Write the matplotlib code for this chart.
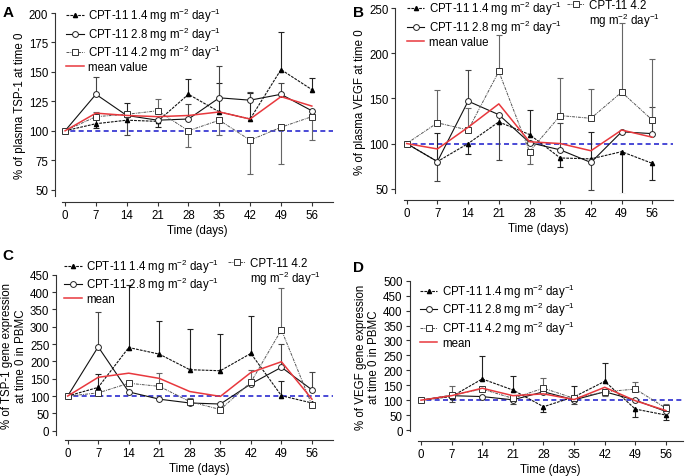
import matplotlib
matplotlib.use("Agg")
import matplotlib.pyplot as plt
import numpy as np
from matplotlib.lines import Line2D

plt.rcParams['font.family'] = ['Liberation Sans', 'DejaVu Sans']
plt.rcParams['mathtext.fontset'] = 'custom'
plt.rcParams['mathtext.rm'] = 'Liberation Sans'
plt.rcParams['font.size'] = 8

days = [0, 7, 14, 21, 28, 35, 42, 49, 56]

# panel A - plasma TSP-1
a_14 = [100, 106, 109, 108, 131, 116, 110, 152, 135]
a_14_lo = [0, 4, 0, 5, 0, 0, 0, 0, 0]
a_14_hi = [0, 4, 15, 0, 13, 25, 22, 32, 10]
a_28 = [100, 131, 113, 109, 110, 128, 126, 131, 117]
a_28_lo = [0, 0, 17, 0, 0, 0, 0, 0, 0]
a_28_hi = [0, 15, 0, 0, 13, 27, 7, 10, 0]
a_42 = [100, 112, 114, 117, 100, 109, 92, 103, 112]
a_42_lo = [0, 0, 0, 0, 14, 13, 29, 31, 20]
a_42_hi = [0, 4, 0, 10, 0, 0, 0, 0, 0]
a_mean = [100, 115, 113, 112, 113, 116, 110, 129, 121]

# panel B - plasma VEGF
b_14 = [100, 80, 100, 124, 110, 84, 83, 91, 78]
b_14_lo = [0, 0, 12, 0, 0, 10, 0, 47, 18]
b_14_hi = [0, 32, 0, 0, 27, 0, 30, 0, 0]
b_28 = [100, 80, 147, 132, 101, 93, 79, 113, 111]
b_28_lo = [0, 21, 0, 50, 0, 0, 30, 0, 0]
b_28_hi = [0, 0, 35, 0, 0, 30, 0, 0, 30]
b_42 = [100, 123, 115, 180, 91, 131, 128, 157, 126]
b_42_lo = [0, 0, 0, 0, 14, 0, 0, 0, 0]
b_42_hi = [0, 36, 24, 40, 0, 42, 32, 77, 68]
b_mean = [100, 94, 118, 144, 102, 100, 92, 115, 107]

# panel C - TSP-1 gene expression in PBMC
c_14 = [100, 125, 240, 221, 176, 173, 223, 101, 80]
c_14_lo = [0, 0, 0, 0, 0, 0, 0, 0, 0]
c_14_hi = [0, 40, 180, 96, 117, 106, 109, 43, 0]
c_28 = [100, 242, 112, 91, 80, 77, 135, 183, 118]
c_28_lo = [0, 0, 0, 0, 0, 0, 0, 0, 0]
c_28_hi = [0, 100, 0, 0, 0, 0, 0, 67, 52]
c_42 = [100, 109, 137, 128, 84, 61, 140, 291, 74]
c_42_lo = [0, 0, 0, 0, 0, 0, 0, 0, 0]
c_42_hi = [0, 0, 0, 38, 10, 20, 36, 120, 0]
c_mean = [100, 154, 166, 151, 113, 99, 168, 199, 91]

# panel D - VEGF gene expression in PBMC
d_14 = [100, 112, 171, 134, 78, 111, 163, 70, 50]
d_14_lo = [0, 0, 0, 0, 19, 0, 0, 26, 16]
d_14_hi = [0, 0, 78, 48, 0, 37, 60, 0, 0]
d_28 = [100, 115, 112, 101, 128, 101, 128, 100, 62]
d_28_lo = [0, 22, 0, 15, 0, 14, 0, 0, 0]
d_28_hi = [0, 0, 0, 0, 0, 0, 0, 0, 0]
d_42 = [100, 117, 137, 106, 140, 106, 128, 137, 73]
d_42_lo = [0, 0, 0, 0, 0, 0, 13, 0, 0]
d_42_hi = [0, 31, 0, 0, 34, 0, 0, 23, 14]
d_mean = [100, 115, 140, 115, 121, 102, 143, 98, 65]

unit = r'mg m$^{\mathregular{-2}}$ day$^{\mathregular{-1}}$'
lab14 = 'CPT-11 1.4 ' + unit
lab28 = 'CPT-11 2.8 ' + unit
lab42 = 'CPT-11 4.2 ' + unit

red = '#e8383d'
blue = '#2b2bd0'

styles = {
    '14': dict(color='#111111', ls=(0, (2.5, 1)), marker='^', ms=3, mfc='black', mec='black', lw=0.8),
    '28': dict(color='#111111', ls='-', marker='o', ms=4.2, mfc='white', mec='#222222', mew=0.7, lw=0.8),
    '42': dict(color='#555555', ls=(0, (3, 1, 1, 1)), marker='s', ms=4.2, mfc='white', mec='#333333', mew=0.7, lw=0.7),
}
ecolors = {'14': '#222222', '28': '#444444', '42': '#666666'}


def errbars(ax, y, lo, hi, ec):
    x = np.array(days)
    y = np.array(y, float)
    lo = np.array(lo, float)
    hi = np.array(hi, float)
    for m, top in ((hi > 0, y + hi), (lo > 0, y - lo)):
        if m.any():
            ax.vlines(x[m], y[m], top[m], color=ec, lw=0.8, zorder=2)
            ax.plot(x[m], top[m], ls='none', marker='_', ms=5, mew=0.8, color=ec, zorder=2)


def panel(rect, ylim, yticks, ylabel, data, mean, xlim=(-0.7, 60.8), off=(5, 5)):
    ax = fig.add_axes(rect)
    ax.axhline(100, color=blue, ls=(0, (3, 2)), lw=1.2, zorder=1)
    for key, (y, lo, hi) in data.items():
        errbars(ax, y, lo, hi, ecolors[key])
    for key, (y, lo, hi) in data.items():
        ax.plot(days, y, zorder=3, **styles[key])
    ax.plot(days, mean, color=red, lw=1.1, zorder=4)
    ax.set_xlim(*xlim)
    ax.set_ylim(*ylim)
    ax.set_xticks(days)
    ax.set_yticks(yticks)
    ax.set_xlabel('Time (days)', fontsize=8.3, labelpad=2)
    ax.set_ylabel(ylabel, fontsize=8.3, labelpad=2)
    for s in ('top', 'right'):
        ax.spines[s].set_visible(False)
    ax.spines['left'].set_position(('outward', off[0]))
    ax.spines['bottom'].set_position(('outward', off[1]))
    for s in ('left', 'bottom'):
        ax.spines[s].set_linewidth(0.8)
        ax.spines[s].set_color('#333333')
    ax.tick_params(length=3, width=0.8, color='#333333', labelsize=8.3, pad=2)
    return ax


def handle(key):
    return Line2D([], [], **styles[key])


fig = plt.figure(figsize=(6.85, 4.77), dpi=100)

panel([0.0905, 0.588, 0.3956, 0.3825], (45, 200), range(50, 201, 25),
      '% of plasma TSP-1 at time 0',
      {'14': (a_14, a_14_lo, a_14_hi), '28': (a_28, a_28_lo, a_28_hi), '42': (a_42, a_42_lo, a_42_hi)},
      a_mean)
panel([0.5892, 0.593, 0.3939, 0.3875], (45, 250), range(50, 251, 50),
      '% of plasma VEGF at time 0',
      {'14': (b_14, b_14_lo, b_14_hi), '28': (b_28, b_28_lo, b_28_hi), '42': (b_42, b_42_lo, b_42_hi)},
      b_mean, off=(6, 5))
panel([0.0943, 0.0862, 0.3917, 0.3358], (-12, 450), range(0, 451, 50),
      '% of TSP-1 gene expression\nat time 0 in PBMC',
      {'14': (c_14, c_14_lo, c_14_hi), '28': (c_28, c_28_lo, c_28_hi), '42': (c_42, c_42_lo, c_42_hi)},
      c_mean, off=(6, 4))
panel([0.6101, 0.0933, 0.3877, 0.3161], (-5, 500), range(0, 501, 50),
      '% of VEGF gene expression\nat time 0 in PBMC',
      {'14': (d_14, d_14_lo, d_14_hi), '28': (d_28, d_28_lo, d_28_hi), '42': (d_42, d_42_lo, d_42_hi)},
      d_mean, xlim=(-0.7, 60.0), off=(6, 7))

mean_h = Line2D([], [], color=red, lw=1.1)
blank = Line2D([], [], alpha=0)
leg_kw = dict(frameon=False, fontsize=8.3, handlelength=1.5, handletextpad=0.4,
              borderpad=0, borderaxespad=0, labelspacing=0.02, loc='upper left')

fig.legend([handle('14'), handle('28'), handle('42'), mean_h],
           [lab14, lab28, lab42, 'mean value'], bbox_to_anchor=(0.097, 0.985), **leg_kw)

fig.legend([handle('14'), handle('28'), mean_h],
           [lab14, lab28, 'mean value'], bbox_to_anchor=(0.594, 1.0), **leg_kw)
fig.legend([handle('42'), blank], ['CPT-11 4.2', unit], bbox_to_anchor=(0.828, 1.0), **leg_kw)

fig.legend([handle('14'), handle('28'), mean_h],
           [lab14, lab28, 'mean'], bbox_to_anchor=(0.094, 0.46), **leg_kw)
fig.legend([handle('42'), blank], ['CPT-11 4.2', unit], bbox_to_anchor=(0.333, 0.46), **leg_kw)

fig.legend([handle('14'), handle('28'), handle('42'), mean_h],
           [lab14, lab28, lab42, 'mean'], bbox_to_anchor=(0.613, 0.407), **leg_kw)

for lt, (x, y) in zip('ABCD', [(0.012, 0.973), (0.524, 0.973), (0.012, 0.463), (0.524, 0.438)]):
    fig.text(x, y, lt, fontsize=11, fontweight='bold', ha='center', va='center')

fig.savefig('out.png', dpi=100)
